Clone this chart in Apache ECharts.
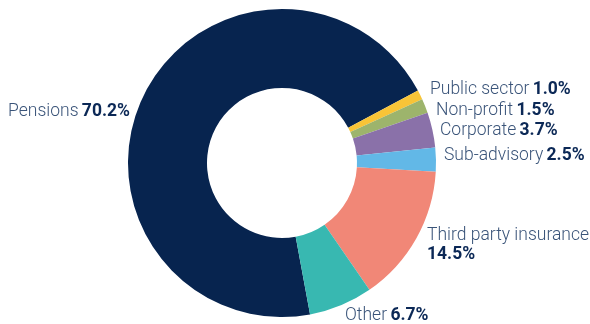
<!DOCTYPE html>
<html>
<head>
<meta charset="utf-8">
<script src="https://cdn.jsdelivr.net/npm/echarts@6/dist/echarts.min.js"></script>
<style>
html,body{margin:0;padding:0;background:#fff;}
#c{width:590px;height:324px;}
</style>
</head>
<body>
<div id="c"></div>
<script>
const categories = ['Pensions', 'Public sector', 'Non-profit', 'Corporate', 'Sub-advisory', 'Third party insurance', 'Other'];
const values = [70.2, 1.0, 1.5, 3.7, 2.5, 14.5, 6.7];
const colors = ['#07244f', '#f8c437', '#9db46c', '#8a71a9', '#62b8e7', '#f18777', '#38b8b1'];
// label anchor positions (x, y, align)
const labelPos = [
  [130, 112, 'right'],
  [430, 90, 'left'],
  [436, 111, 'left'],
  [440, 131, 'left'],
  [444, 155.5, 'left'],
  [427, 245, 'left'],
  [345, 316, 'left']
];

const chart = echarts.init(document.getElementById('c'));
chart.setOption({
  animation: false,
  series: [{
    type: 'pie',
    center: [282, 163],
    radius: [75, 154],
    startAngle: -79.5,
    clockwise: true,
    avoidLabelOverlap: false,
    emphasis: { disabled: true },
    itemStyle: { borderWidth: 0 },
    label: {
      show: true,
      position: 'outside',
      formatter: function (p) {
        const sep = p.name === 'Third party insurance' ? '\n' : ' ';
        return '{n|' + p.name + '}' + sep + '{v|' + p.value.toFixed(1) + '%}';
      },
      rich: {
        n: { fontFamily: 'Roboto', fontSize: 17.5, color: '#3a5479', fontWeight: 300, lineHeight: 19.5 },
        v: { fontFamily: 'Roboto', fontSize: 17.5, color: '#0b2856', fontWeight: 'bold', lineHeight: 19.5 }
      }
    },
    labelLine: { show: false },
    labelLayout: function (params) {
      const p = labelPos[params.dataIndex];
      return { x: p[0], y: p[1], align: p[2], verticalAlign: 'middle' };
    },
    data: categories.map((name, i) => ({ name: name, value: values[i], itemStyle: { color: colors[i] } }))
  }]
});
</script>
</body>
</html>
